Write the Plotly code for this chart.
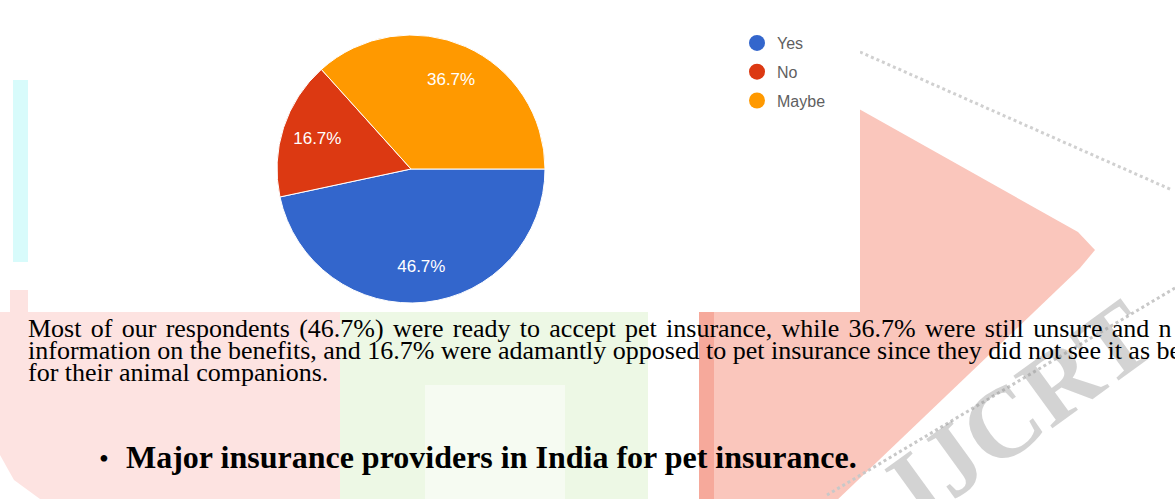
import plotly.graph_objects as go

# ---------------- data ----------------
answers = ["Yes", "No", "Maybe"]
shares = [46.7, 16.7, 36.7]
slice_colors = ["#3366CC", "#DC3912", "#FF9900"]

body_lines = [
    "Most of our respondents (46.7%) were ready to accept pet insurance, while 36.7% were still unsure and n",
    "information on the benefits, and 16.7% were adamantly opposed to pet insurance since they did not see it as be",
    "for their animal companions.",
]
heading = "Major insurance providers in India for pet insurance."
watermark = "IJCRT"

W, H = 1175, 499


def px(x):
    return x / W


def py(y):
    return 1 - y / H


def path(points, close=True):
    s = "M " + " L ".join(f"{px(x):.5f},{py(y):.5f}" for x, y in points)
    return s + (" Z" if close else "")


pie_domain = dict(x=[px(277), px(545)], y=[py(303), py(35)])

fig = go.Figure()

# coloured pie (no text)
fig.add_trace(go.Pie(
    labels=answers, values=shares, sort=False,
    direction="clockwise", rotation=90,
    marker=dict(colors=slice_colors, line=dict(color="white", width=1)),
    textinfo="none",
    domain=pie_domain,
    showlegend=False, hoverinfo="label+percent",
))
# transparent ring carrying the percentage labels (places them further out)
fig.add_trace(go.Pie(
    labels=answers, values=shares, sort=False,
    direction="clockwise", rotation=90, hole=0.47,
    marker=dict(colors=["rgba(0,0,0,0)"] * 3, line=dict(width=0)),
    texttemplate="%{value}%", textposition="inside",
    insidetextorientation="horizontal",
    textfont=dict(family="Liberation Sans, Arial", size=17, color="white"),
    domain=pie_domain,
    showlegend=False, hoverinfo="skip",
))

for a, c in zip(answers, slice_colors):
    fig.add_trace(go.Scatter(
        x=[None], y=[None], mode="markers", name=a, legendgroup=a,
        marker=dict(color=c, size=16, symbol="circle"),
    ))


def shp(**kw):
    kw.setdefault("xref", "paper")
    kw.setdefault("yref", "paper")
    kw.setdefault("layer", "below")
    return kw


shapes = []
# watermark background pieces
shapes.append(shp(type="path", path=path([(0, 312), (340, 312), (340, 499), (40, 499), (14, 480), (0, 455)]),
                  fillcolor="#fde3e1", line=dict(width=0)))
shapes.append(shp(type="rect", x0=px(340), x1=px(648), y0=py(499), y1=py(312),
                  fillcolor="#edf8e5", line=dict(width=0)))
shapes.append(shp(type="rect", x0=px(425), x1=px(565), y0=py(499), y1=py(385),
                  fillcolor="#f6fbf2", line=dict(width=0)))
shapes.append(shp(type="path",
                  path=path([(699, 19), (1078, 232), (1095, 250), (1080, 268), (699, 632)]),
                  fillcolor="#fac6bc", line=dict(width=0)))
shapes.append(shp(type="rect", x0=px(699), x1=px(714), y0=py(499), y1=py(312),
                  fillcolor="#f6a99b", line=dict(width=0)))
shapes.append(shp(type="path",
                  path=path([(860, 52), (1172, 190)], close=False),
                  line=dict(color="#d0d0d0", width=3, dash="dot")))
shapes.append(shp(type="path",
                  path=path([(1175, 288), (827, 495)], close=False),
                  line=dict(color="#c8c8c8", width=3, dash="dot")))
shapes.append(shp(type="rect", x0=px(13), x1=px(28), y0=py(262), y1=py(80),
                  fillcolor="#d8fbfb", line=dict(width=0)))
shapes.append(shp(type="rect", x0=px(10), x1=px(28), y0=py(312), y1=py(290),
                  fillcolor="#fde3e1", line=dict(width=0)))
# white chart image box
shapes.append(shp(type="rect", x0=px(28), x1=px(860), y0=py(312), y1=py(0),
                  fillcolor="white", line=dict(width=0)))

annotations = []
annotations.append(dict(text="<b>" + watermark + "</b>", x=px(1020), y=py(410),
                        xref="paper", yref="paper", xanchor="center", yanchor="middle",
                        showarrow=False, textangle=-36,
                        font=dict(family="Liberation Serif", size=100, color="rgba(150,150,150,0.42)")))

base = [336, 358, 380]
fs = 26
annotations.append(dict(
    text='<span style="word-spacing:2.8px">' + body_lines[0] + "</span>",
    x=px(26), y=py(base[0] - 8), xref="paper", yref="paper", xanchor="left", yanchor="middle",
    showarrow=False, font=dict(family="Liberation Serif", size=fs, color="black")))
annotations.append(dict(
    text=body_lines[1],
    x=px(26), y=py(base[1] - 8), xref="paper", yref="paper", xanchor="left", yanchor="middle",
    showarrow=False, font=dict(family="Liberation Serif", size=fs, color="black")))
annotations.append(dict(
    text=body_lines[2],
    x=px(26), y=py(base[2] - 8), xref="paper", yref="paper", xanchor="left", yanchor="middle",
    showarrow=False, font=dict(family="Liberation Serif", size=fs, color="black")))
annotations.append(dict(
    text="•", x=px(104), y=py(458), xref="paper", yref="paper", xanchor="center", yanchor="middle",
    showarrow=False, font=dict(family="Liberation Serif", size=28, color="black")))
annotations.append(dict(
    text="<b>" + heading + "</b>",
    x=px(124), y=py(457), xref="paper", yref="paper", xanchor="left", yanchor="middle",
    showarrow=False, font=dict(family="Liberation Serif", size=32, color="black")))

fig.update_layout(
    width=W, height=H, autosize=False,
    margin=dict(l=0, r=0, t=0, b=0),
    paper_bgcolor="white", plot_bgcolor="rgba(0,0,0,0)",
    xaxis=dict(visible=False), yaxis=dict(visible=False),
    showlegend=True,
    legend=dict(x=px(737), y=py(26), xanchor="left", yanchor="top",
                font=dict(family="Liberation Sans, Arial", size=16, color="#5f5f5f"),
                tracegroupgap=5, bgcolor="rgba(0,0,0,0)", itemsizing="trace"),
    shapes=shapes, annotations=annotations,
)

fig.write_html("out.html")
